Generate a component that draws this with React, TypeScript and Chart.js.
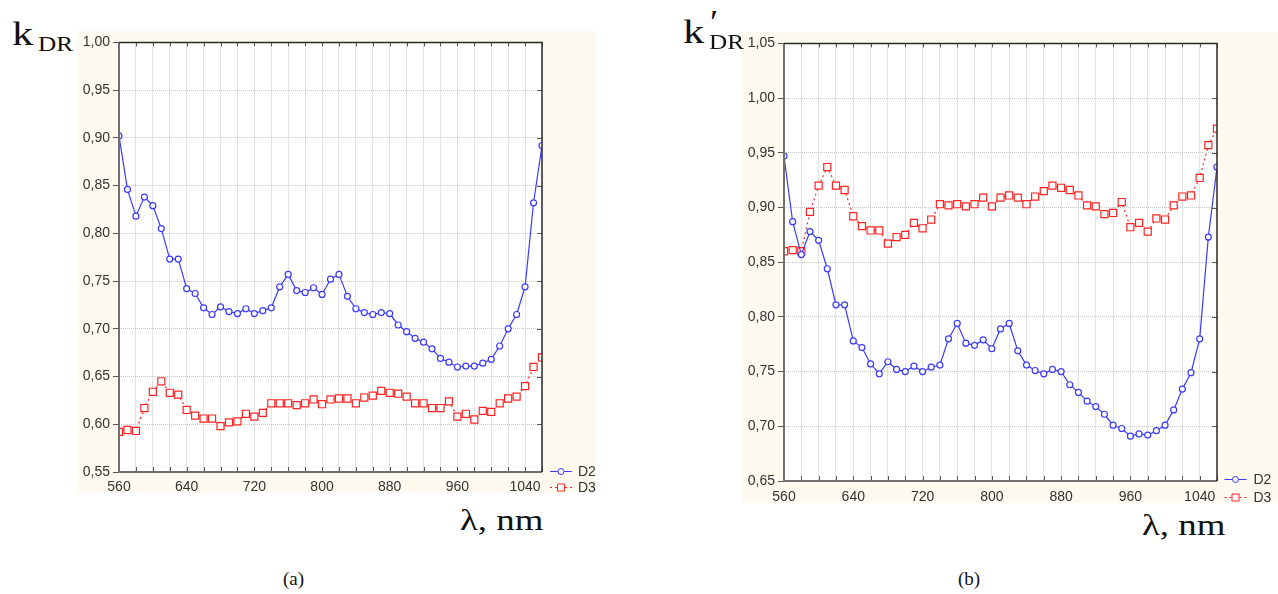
import React, { useEffect, useRef } from "react";
import { Chart, registerables } from "chart.js";

Chart.register(...registerables);

// ---------- data ----------
const WAVELENGTHS = [
  560, 570, 580, 590, 600, 610, 620, 630, 640, 650,
  660, 670, 680, 690, 700, 710, 720, 730, 740, 750,
  760, 770, 780, 790, 800, 810, 820, 830, 840, 850,
  860, 870, 880, 890, 900, 910, 920, 930, 940, 950,
  960, 970, 980, 990, 1000, 1010, 1020, 1030, 1040, 1050, 1060,
];

const D2_A = [
  0.902, 0.846, 0.818, 0.838, 0.829, 0.805, 0.773, 0.773, 0.742, 0.737,
  0.722, 0.715, 0.723, 0.718, 0.716, 0.721, 0.716, 0.719, 0.722, 0.744,
  0.757, 0.740, 0.738, 0.743, 0.736, 0.752, 0.757, 0.734, 0.721, 0.717,
  0.715, 0.717, 0.716, 0.704, 0.697, 0.690, 0.686, 0.679, 0.669, 0.665,
  0.660, 0.661, 0.661, 0.664, 0.668, 0.682, 0.700, 0.715, 0.744, 0.832, 0.892,
];
const D3_A = [
  0.592, 0.594, 0.593, 0.617, 0.634, 0.645, 0.633, 0.631, 0.615, 0.609,
  0.606, 0.606, 0.598, 0.602, 0.603, 0.611, 0.608, 0.612, 0.622, 0.622,
  0.622, 0.620, 0.622, 0.626, 0.621, 0.626, 0.627, 0.627, 0.622, 0.628,
  0.630, 0.635, 0.633, 0.632, 0.629, 0.622, 0.622, 0.617, 0.617, 0.624,
  0.608, 0.611, 0.605, 0.614, 0.613, 0.622, 0.627, 0.629, 0.640, 0.660, 0.670,
];
const D2_B = [
  0.947, 0.887, 0.857, 0.878, 0.870, 0.844, 0.811, 0.811, 0.778, 0.772,
  0.757, 0.748, 0.759, 0.752, 0.750, 0.755, 0.750, 0.754, 0.756, 0.780,
  0.794, 0.776, 0.774, 0.779, 0.771, 0.789, 0.794, 0.769, 0.756, 0.751,
  0.748, 0.752, 0.750, 0.738, 0.731, 0.723, 0.718, 0.711, 0.701, 0.698,
  0.691, 0.693, 0.692, 0.696, 0.701, 0.715, 0.734, 0.749, 0.780, 0.873, 0.937,
];
const D3_B = [
  0.860, 0.861, 0.860, 0.896, 0.920, 0.937, 0.920, 0.916, 0.892, 0.883,
  0.879, 0.879, 0.867, 0.873, 0.875, 0.886, 0.881, 0.889, 0.903, 0.902,
  0.903, 0.901, 0.903, 0.909, 0.901, 0.909, 0.911, 0.909, 0.903, 0.910,
  0.915, 0.920, 0.918, 0.916, 0.911, 0.902, 0.901, 0.894, 0.895, 0.905,
  0.882, 0.886, 0.878, 0.890, 0.889, 0.902, 0.910, 0.911, 0.927, 0.957, 0.972,
];

const X_TICK_LABELS = ["560", "640", "720", "800", "880", "960", "1040"];
const SERIES_NAMES = ["D2", "D3"];

// ---------- styles ----------
const BEIGE = "#fefaf0";
const BLUE = "#3a3aff";
const RED = "#ff2222";
const TICK_FONT = { family: "'Liberation Sans', Arial, sans-serif", size: 14 };
const TICK_COLOR = "#333333";
const GRID_COLOR = "#c8c8c8";

const bgPlugin = {
  id: "bgPlugin",
  beforeDraw(chart: any) {
    const { ctx, width, height, chartArea } = chart;
    ctx.save();
    ctx.fillStyle = BEIGE;
    ctx.fillRect(0, 0, width, height);
    ctx.fillStyle = "#ffffff";
    ctx.fillRect(chartArea.left, chartArea.top, chartArea.right - chartArea.left, chartArea.bottom - chartArea.top);
    ctx.restore();
  },
};

const framePlugin = {
  id: "framePlugin",
  afterDraw(chart: any) {
    const { ctx, chartArea } = chart;
    const { left, right, top, bottom } = chartArea;
    const xs = chart.scales.x;
    const ys = chart.scales.y;
    ctx.save();
    ctx.strokeStyle = "#555";
    ctx.lineWidth = 1;
    ctx.beginPath();
    xs.ticks.forEach((t: any) => {
      const px = Math.round(xs.getPixelForValue(t.value)) + 0.5;
      ctx.moveTo(px, top);
      ctx.lineTo(px, top + 4);
      ctx.moveTo(px, bottom);
      ctx.lineTo(px, bottom - 5);
    });
    ys.ticks.forEach((t: any) => {
      const py = Math.round(ys.getPixelForValue(t.value)) + 0.5;
      ctx.moveTo(right, py);
      ctx.lineTo(right - 5, py);
    });
    ctx.stroke();
    // left & bottom axes
    ctx.strokeStyle = "#707070";
    ctx.lineWidth = 2;
    ctx.beginPath();
    ctx.moveTo(left, top);
    ctx.lineTo(left, bottom);
    ctx.lineTo(right, bottom);
    ctx.stroke();
    // top & right frame
    ctx.strokeStyle = "#2a2a2a";
    ctx.lineWidth = 1.5;
    ctx.beginPath();
    ctx.moveTo(left, top);
    ctx.lineTo(right, top);
    ctx.lineTo(right, bottom);
    ctx.stroke();
    ctx.restore();
  },
};

const legendPlugin = {
  id: "customLegend",
  afterDraw(chart: any) {
    const { ctx, chartArea } = chart;
    const opts = chart.options.plugins.customLegend;
    const x0 = chartArea.right + opts.dx;
    const rows = [chartArea.bottom + opts.dy1, chartArea.bottom + opts.dy2];
    ctx.save();
    chart.data.datasets.forEach((ds: any, i: number) => {
      const y = Math.round(rows[i]) + 0.5;
      ctx.strokeStyle = ds.borderColor;
      ctx.lineWidth = 1;
      ctx.setLineDash(ds.borderDash || []);
      ctx.beginPath();
      ctx.moveTo(x0, y);
      ctx.lineTo(x0 + 22, y);
      ctx.stroke();
      ctx.setLineDash([]);
      const cx = x0 + 11;
      ctx.fillStyle = "#ffffff";
      ctx.beginPath();
      if (ds.pointStyle === "rect") {
        ctx.rect(cx - 3.5, y - 3.5, 7, 7);
      } else {
        ctx.arc(cx, y, 3, 0, Math.PI * 2);
      }
      ctx.fill();
      ctx.stroke();
      ctx.fillStyle = "#333";
      ctx.font = `${TICK_FONT.size}px ${TICK_FONT.family}`;
      ctx.textBaseline = "middle";
      ctx.textAlign = "left";
      ctx.fillText(ds.label, x0 + opts.textDx, y + 1);
    });
    ctx.restore();
  },
};

type PanelProps = {
  d2: number[];
  d3: number[];
  yMin: number;
  yMax: number;
  left: number;
  top: number;
  width: number;
  height: number;
  padTop: number;
  padRight: number;
  yAxisWidth: number;
  xAxisHeight: number;
  xLabelPad: number;
  legend: { dx: number; dy1: number; dy2: number; textDx: number };
};

function Panel(p: PanelProps) {
  const ref = useRef<HTMLCanvasElement | null>(null);
  useEffect(() => {
    if (!ref.current) return;
    const chart = new Chart(ref.current, {
      type: "line",
      data: {
        datasets: [
          {
            label: SERIES_NAMES[0],
            data: WAVELENGTHS.map((x, i) => ({ x, y: p.d2[i] })),
            borderColor: BLUE,
            borderWidth: 1.2,
            pointStyle: "circle",
            pointRadius: 3,
            pointBackgroundColor: "#ffffff",
            pointBorderColor: BLUE,
            pointBorderWidth: 1.2,
            tension: 0,
          },
          {
            label: SERIES_NAMES[1],
            data: WAVELENGTHS.map((x, i) => ({ x, y: p.d3[i] })),
            borderColor: RED,
            borderWidth: 1.2,
            borderDash: [2, 3],
            pointStyle: "rect",
            pointRadius: 5,
            pointBackgroundColor: "#ffffff",
            pointBorderColor: RED,
            pointBorderWidth: 1.2,
            tension: 0,
          },
        ],
      },
      options: {
        animation: false,
        responsive: false,
        maintainAspectRatio: false,
        devicePixelRatio: 1,
        layout: { padding: { left: 0, top: p.padTop, right: p.padRight, bottom: 0 } },
        plugins: {
          legend: { display: false },
          tooltip: { enabled: false },
          customLegend: p.legend,
        } as any,
        scales: {
          x: {
            type: "linear",
            min: 560,
            max: 1060,
            afterFit: (s: any) => {
              s.height = p.xAxisHeight;
            },
            ticks: {
              stepSize: 20,
              autoSkip: false,
              maxRotation: 0,
              font: TICK_FONT,
              color: TICK_COLOR,
              padding: p.xLabelPad,
              callback: (v: any) => (X_TICK_LABELS.includes(String(v)) ? String(v) : ""),
            },
            grid: { color: GRID_COLOR, drawTicks: false, lineWidth: 1 },
            border: { display: false, dash: [1, 1] },
          },
          y: {
            type: "linear",
            min: p.yMin,
            max: p.yMax,
            afterFit: (s: any) => {
              s.width = p.yAxisWidth;
            },
            ticks: {
              stepSize: 0.05,
              font: TICK_FONT,
              color: TICK_COLOR,
              padding: 3,
              callback: (v: any) => Number(v).toFixed(2).replace(".", ","),
            },
            grid: {
              color: GRID_COLOR,
              lineWidth: 1,
              drawTicks: true,
              tickLength: 6,
              tickColor: "#555",
              tickBorderDash: [],
            },
            border: { display: false, dash: [1, 1] },
          },
        },
      } as any,
      plugins: [bgPlugin, framePlugin, legendPlugin],
    });
    return () => chart.destroy();
  }, []);
  return (
    <canvas
      ref={ref}
      width={p.width}
      height={p.height}
      style={{ position: "absolute", left: p.left, top: p.top, width: p.width, height: p.height }}
    />
  );
}

const serif = "'Liberation Serif', 'Times New Roman', serif";

function Label(props: { text: string; left: number; top: number; size: number; sx?: number }) {
  return (
    <span
      style={{
        position: "absolute",
        left: props.left,
        top: props.top,
        fontFamily: serif,
        fontSize: props.size,
        lineHeight: 1,
        whiteSpace: "pre",
        color: "#111",
        transform: `scaleX(${props.sx ?? 1})`,
        transformOrigin: "left top",
      }}
    >
      {props.text}
    </span>
  );
}

export default function App() {
  return (
    <div style={{ position: "fixed", left: 0, top: 0, width: 1278, height: 594, background: "#ffffff", overflow: "hidden" }}>
      <Panel
        d2={D2_A}
        d3={D3_A}
        yMin={0.55}
        yMax={1.0}
        left={78}
        top={31}
        width={518}
        height={462}
        padTop={7}
        padRight={54}
        yAxisWidth={41}
        xAxisHeight={21}
        xLabelPad={7}
        legend={{ dx: 8, dy1: -1.5, dy2: 15, textDx: 28 }}
      />
      <Panel
        d2={D2_B}
        d3={D3_B}
        yMin={0.65}
        yMax={1.05}
        left={742}
        top={32}
        width={536}
        height={471}
        padTop={10}
        padRight={61}
        yAxisWidth={42}
        xAxisHeight={22}
        xLabelPad={8}
        legend={{ dx: 7.5, dy1: -1.7, dy2: 16, textDx: 29 }}
      />
      {/* panel (a) labels */}
      <Label text="k" left={12} top={16.5} size={34} sx={1.25} />
      <Label text="DR" left={38} top={34.4} size={21} sx={1.2} />
      <Label text="λ, nm" left={460} top={505.7} size={29} sx={1.27} />
      <Label text="(a)" left={283} top={569} size={19} />
      {/* panel (b) labels */}
      <Label text="k" left={683} top={14.5} size={34} sx={1.25} />
      <Label text="′" left={710} top={5} size={34} sx={1.1} />
      <Label text="DR" left={709} top={32.4} size={21} sx={1.2} />
      <Label text="λ, nm" left={1142} top={510.7} size={29} sx={1.27} />
      <Label text="(b)" left={958} top={569} size={19} />
    </div>
  );
}
